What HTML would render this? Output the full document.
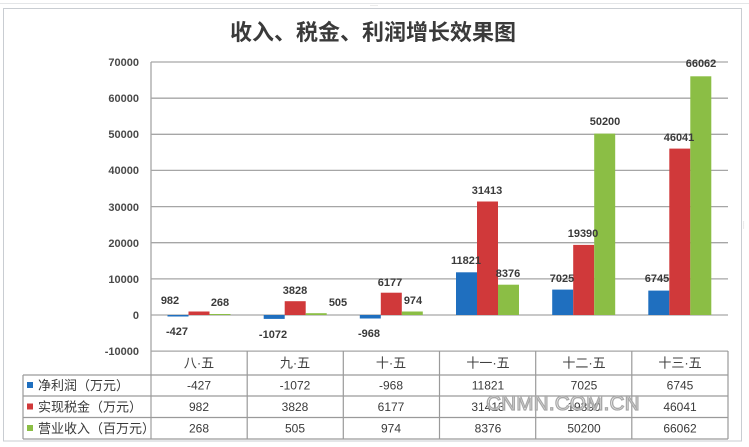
<!DOCTYPE html>
<html><head><meta charset="utf-8"><style>
html,body{margin:0;padding:0;background:#fff;}
svg{display:block;}
text{font-family:"Liberation Sans","Noto Sans CJK SC",sans-serif;}
</style></head><body>
<svg width="749" height="447" viewBox="0 0 749 447" xmlns="http://www.w3.org/2000/svg">
<rect x="0" y="0" width="749" height="447" fill="#fff"/>
<!-- outer frame -->
<line x1="0" y1="3.5" x2="749" y2="3.5" stroke="#e4e6e8" stroke-width="1"/>
<rect x="3.5" y="8.5" width="738" height="432.5" fill="#fff" stroke="#c9cdd2" stroke-width="1"/>
<text x="374" y="7" font-size="6" fill="#999" text-anchor="middle">····</text>
<text x="742" y="225" font-size="6" fill="#999" text-anchor="middle" transform="rotate(90 742 225)">····</text>
<!-- title -->
<text x="373" y="40" font-size="22" font-weight="bold" fill="#3a3a3a" text-anchor="middle" style="font-family:'Noto Sans CJK SC',sans-serif">收入、税金、利润增长效果图</text>
<!-- gridlines -->
<g stroke="#a6a6a6" stroke-width="1.3">
<line x1="151" y1="62" x2="728" y2="62"/>
<line x1="151" y1="98.2" x2="728" y2="98.2"/>
<line x1="151" y1="134.3" x2="728" y2="134.3"/>
<line x1="151" y1="170.4" x2="728" y2="170.4"/>
<line x1="151" y1="206.6" x2="728" y2="206.6"/>
<line x1="151" y1="242.7" x2="728" y2="242.7"/>
<line x1="151" y1="278.9" x2="728" y2="278.9"/>
<line x1="151" y1="315" x2="728" y2="315"/>
<line x1="151" y1="351.1" x2="728" y2="351.1"/>
<line x1="151" y1="62" x2="151" y2="439"/>
</g>
<!-- y labels -->
<g font-size="11" font-weight="bold" fill="#4a4a4a" text-anchor="end">
<text x="139" y="66">70000</text>
<text x="139" y="102">60000</text>
<text x="139" y="138">50000</text>
<text x="139" y="174">40000</text>
<text x="139" y="211">30000</text>
<text x="139" y="247">20000</text>
<text x="139" y="283">10000</text>
<text x="139" y="319">0</text>
<text x="139" y="355">-10000</text>
</g>
<!-- bars -->
<g>
<rect x="167.5" y="315" width="21" height="1.5" fill="#1f6fbf"/>
<rect x="188.5" y="311.5" width="21" height="3.5" fill="#d0393a"/>
<rect x="209.5" y="314" width="21" height="1" fill="#8bbe45"/>
<rect x="263.7" y="315" width="21" height="3.9" fill="#1f6fbf"/>
<rect x="284.7" y="301.2" width="21" height="13.8" fill="#d0393a"/>
<rect x="305.7" y="313.2" width="21" height="1.8" fill="#8bbe45"/>
<rect x="359.8" y="315" width="21" height="3.5" fill="#1f6fbf"/>
<rect x="380.8" y="292.7" width="21" height="22.3" fill="#d0393a"/>
<rect x="401.8" y="311.5" width="21" height="3.5" fill="#8bbe45"/>
<rect x="456" y="272.3" width="21" height="42.7" fill="#1f6fbf"/>
<rect x="477" y="201.5" width="21" height="113.5" fill="#d0393a"/>
<rect x="498" y="284.7" width="21" height="30.3" fill="#8bbe45"/>
<rect x="552.2" y="289.6" width="21" height="25.4" fill="#1f6fbf"/>
<rect x="573.2" y="244.9" width="21" height="70.1" fill="#d0393a"/>
<rect x="594.2" y="133.6" width="21" height="181.4" fill="#8bbe45"/>
<rect x="648.3" y="290.6" width="21" height="24.4" fill="#1f6fbf"/>
<rect x="669.3" y="148.6" width="21" height="166.4" fill="#d0393a"/>
<rect x="690.3" y="76.3" width="21" height="238.7" fill="#8bbe45"/>
</g>
<!-- data labels -->
<g font-size="11" font-weight="bold" fill="#3a3a3a" text-anchor="middle">
<text x="170" y="304">982</text>
<text x="220" y="306">268</text>
<text x="177" y="335">-427</text>
<text x="295" y="294">3828</text>
<text x="338" y="306">505</text>
<text x="273" y="338">-1072</text>
<text x="390" y="286">6177</text>
<text x="413" y="304">974</text>
<text x="369" y="337">-968</text>
<text x="466" y="264">11821</text>
<text x="487" y="194">31413</text>
<text x="508" y="277">8376</text>
<text x="562" y="282">7025</text>
<text x="583" y="237">19390</text>
<text x="605" y="125">50200</text>
<text x="657" y="282">6745</text>
<text x="679" y="141">46041</text>
<text x="701" y="67">66062</text>
</g>
<!-- table -->
<g stroke="#9a9a9a" stroke-width="1.2">
<line x1="23" y1="375" x2="728" y2="375"/>
<line x1="23" y1="396" x2="728" y2="396"/>
<line x1="23" y1="417.5" x2="728" y2="417.5"/>
<line x1="23" y1="439" x2="728" y2="439"/>
<line x1="23" y1="375" x2="23" y2="439"/>
<line x1="247.2" y1="351" x2="247.2" y2="439"/>
<line x1="343.3" y1="351" x2="343.3" y2="439"/>
<line x1="439.5" y1="351" x2="439.5" y2="439"/>
<line x1="535.7" y1="351" x2="535.7" y2="439"/>
<line x1="631.8" y1="351" x2="631.8" y2="439"/>
<line x1="728" y1="351" x2="728" y2="439"/>
</g>
<g font-size="13" fill="#404040" text-anchor="middle" style="font-family:'Noto Sans CJK SC',sans-serif">
<text x="199" y="367.5">八·五</text>
<text x="295" y="367.5">九·五</text>
<text x="391" y="367.5">十·五</text>
<text x="488" y="367.5">十一·五</text>
<text x="584" y="367.5">十二·五</text>
<text x="680" y="367.5">十三·五</text>
</g>
<g font-size="12" fill="#3a3a3a" text-anchor="middle">
<text x="199" y="389.5">-427</text>
<text x="295" y="389.5">-1072</text>
<text x="391" y="389.5">-968</text>
<text x="488" y="389.5">11821</text>
<text x="584" y="389.5">7025</text>
<text x="680" y="389.5">6745</text>
<text x="199" y="411">982</text>
<text x="295" y="411">3828</text>
<text x="391" y="411">6177</text>
<text x="488" y="411">31413</text>
<text x="584" y="411">19390</text>
<text x="680" y="411">46041</text>
<text x="199" y="432.5">268</text>
<text x="295" y="432.5">505</text>
<text x="391" y="432.5">974</text>
<text x="488" y="432.5">8376</text>
<text x="584" y="432.5">50200</text>
<text x="680" y="432.5">66062</text>
</g>
<!-- legend -->
<rect x="27" y="382" width="6" height="6" fill="#1f6fbf"/>
<rect x="27" y="403.5" width="6" height="6" fill="#d0393a"/>
<rect x="27" y="425" width="6" height="6" fill="#8bbe45"/>
<g font-size="13" fill="#3a3a3a" style="font-family:'Noto Sans CJK SC',sans-serif">
<text x="38" y="390">净利润（万元）</text>
<text x="38" y="411.5">实现税金（万元）</text>
<text x="38" y="433">营业收入（百万元）</text>
</g>
<!-- watermark -->
<text x="563" y="410" font-size="20.5" fill="#ffffff" fill-opacity="0.65" stroke="#a8a8a8" stroke-width="1.3" text-anchor="middle" letter-spacing="0.3">CNMN.COM.CN</text>
</svg>
</body></html>
